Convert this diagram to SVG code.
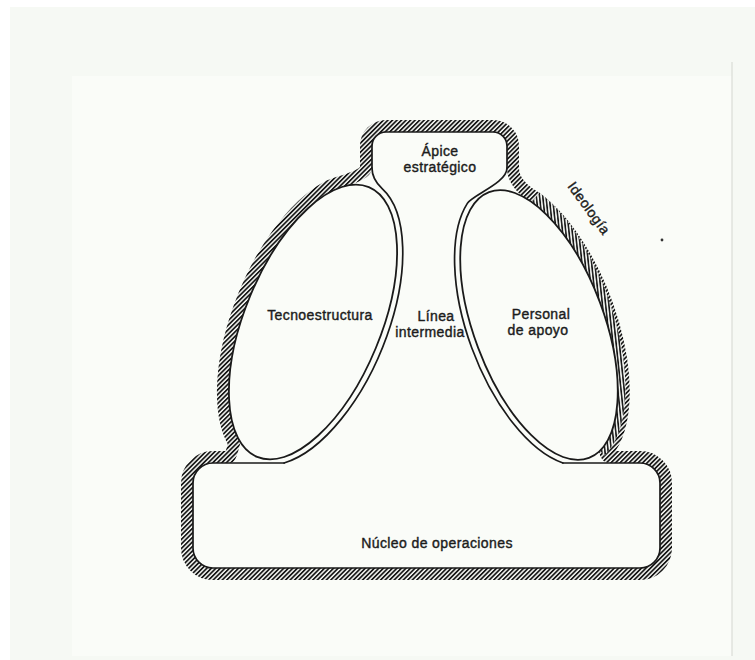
<svg xmlns="http://www.w3.org/2000/svg" width="755" height="660" viewBox="0 0 755 660">
  <style>
    .ink { fill: none; stroke: #1a1a1a; stroke-width: 1.7; stroke-linecap: round; stroke-linejoin: round; }
    .part { fill: #fafcf8; stroke: #1a1a1a; stroke-width: 1.8; }
    .label { font-family: "Liberation Sans", Arial, sans-serif; font-size: 14px; letter-spacing: 0.4px; fill: #1c1c1c; stroke: #1c1c1c; stroke-width: 0.4; text-anchor: middle; }
  </style>
  <defs>
    <!-- diagonal shading used for the ideology band around the whole organisation -->
    <pattern id="hatch" patternUnits="userSpaceOnUse" width="3.2" height="3.2" patternTransform="rotate(45)">
      <line x1="0.9" y1="0" x2="0.9" y2="3.2" stroke="#111" stroke-width="1.7"/>
    </pattern>
    <pattern id="hatchV" patternUnits="userSpaceOnUse" width="3.2" height="3.2" patternTransform="rotate(-6)">
      <line x1="0.9" y1="0" x2="0.9" y2="3.2" stroke="#111" stroke-width="1.6"/>
    </pattern>
    <!-- outer silhouette of the organisation -->
    <path id="silhouette" d="M 386 132 H 493 A 14 14 0 0 1 507 146 V 168 C 507 182 517.6 193.3 526.15 198.46 A 65 142 -20.6 0 1 598.77 451.93 C 601 458 603 463 610 463 H 640 A 20 20 0 0 1 660 483 V 548 A 20 20 0 0 1 640 568 H 213 A 20 20 0 0 1 193 548 V 483 A 20 20 0 0 1 213 463 H 230 C 236 463 238 452 240.45 442.24 A 68 146 22.5 0 1 329.98 192.17 C 338.8 187.4 372 182 372 168 V 146 A 14 14 0 0 1 386 132 Z"/>
  </defs>

  <!-- paper -->
  <rect width="755" height="660" fill="#ffffff"/>
  <rect x="10" y="7" width="745" height="653" fill="#f6f9f4"/>
  <rect x="72" y="76" width="660" height="580" fill="#fafcf8"/>
  <line x1="732" y1="62" x2="732" y2="656" stroke="#d4d7d0" stroke-width="1"/>

  <!-- ideology band -->
  <g id="ideologia">
    <use href="#silhouette" fill="none" stroke="url(#hatch)" stroke-width="24" stroke-linejoin="round"/>
    <path d="M 532 202 A 65 142 -20.6 0 1 596 447" fill="none" stroke="#fafcf8" stroke-width="24"/>
    <path d="M 532 202 A 65 142 -20.6 0 1 596 447" fill="none" stroke="url(#hatchV)" stroke-width="24"/>
    <use href="#silhouette" fill="#fafcf8"/>
    <text class="label" transform="translate(585 211) rotate(54)">Ideología</text>
  </g>

  <!-- strategic apex -->
  <g id="apice">
    <path class="ink" d="M 372 168 V 146 A 14 14 0 0 1 386 132 H 493 A 14 14 0 0 1 507 146 V 168"/>
    <text class="label" x="440" y="156">Ápice</text>
    <text class="label" x="440" y="172">estratégico</text>
  </g>

  <!-- middle line -->
  <g id="linea-intermedia">
    <path class="ink" d="M 372 168 C 372 176 376.25 183.2 382.15 188.62 A 74 152 22.5 0 1 284.09 463"/>
    <path class="ink" d="M 507 168 C 507 183 472.7 194.9 467.34 203.36 A 71 148 -20.6 0 0 562.93 463"/>
    <text class="label" x="436" y="321">Línea</text>
    <text class="label" x="430" y="337">intermedia</text>
  </g>

  <!-- technostructure -->
  <g id="tecnoestructura">
    <ellipse class="part" cx="313" cy="322" rx="68" ry="146" transform="rotate(22.5 313 322)"/>
    <text class="label" x="320" y="320">Tecnoestructura</text>
  </g>

  <!-- support staff -->
  <g id="personal-apoyo">
    <ellipse class="part" cx="539" cy="325" rx="65" ry="142" transform="rotate(-20.6 539 325)"/>
    <text class="label" x="541" y="319">Personal</text>
    <text class="label" x="538" y="335">de apoyo</text>
  </g>

  <!-- operating core -->
  <g id="nucleo-operaciones">
    <path class="ink" d="M 284.09 463 H 213 A 20 20 0 0 0 193 483 V 548 A 20 20 0 0 0 213 568 H 640 A 20 20 0 0 0 660 548 V 483 A 20 20 0 0 0 640 463 H 562.93"/>
    <text class="label" x="437" y="548">Núcleo de operaciones</text>
  </g>

  <g id="connectors"/>

  <circle cx="662" cy="240" r="1.4" fill="#333"/>
</svg>
